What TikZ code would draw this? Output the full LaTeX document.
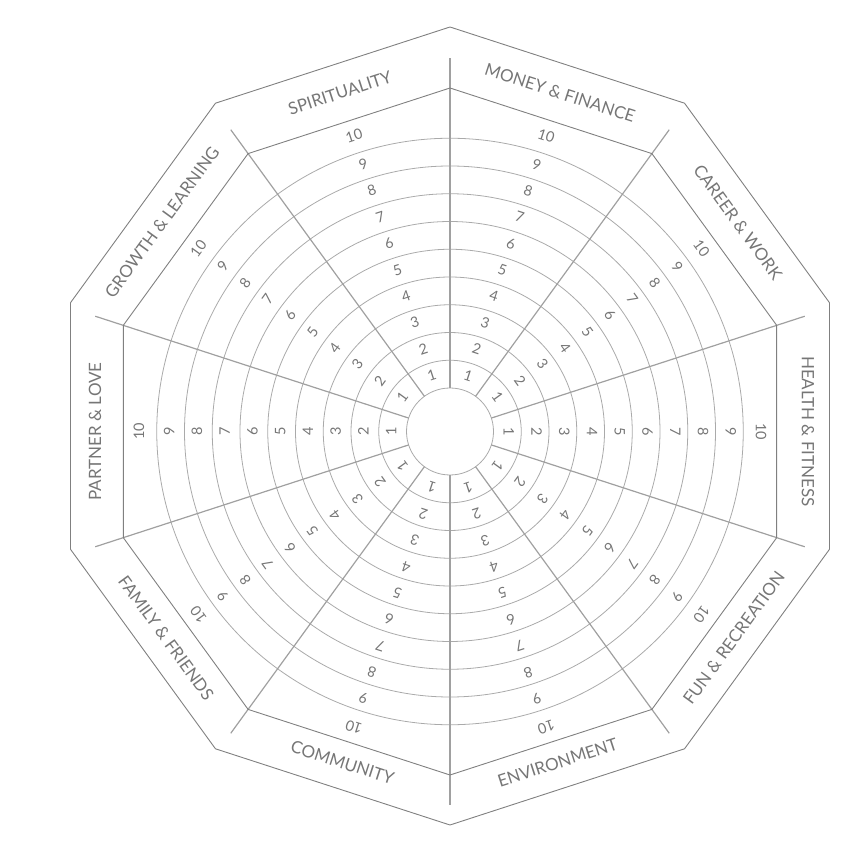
\documentclass[tikz,border=0pt]{standalone}
\usepackage{fontspec}
\setmainfont{Lato}
\definecolor{linegray}{HTML}{808080}
\definecolor{spokegray}{HTML}{A0A0A0}
\definecolor{circgray}{HTML}{AAAAAA}
\definecolor{textgray}{HTML}{767676}
\begin{document}
\begin{tikzpicture}[x=1pt,y=1pt,
  frame/.style={draw=linegray,line width=0.9pt,line join=miter},
  ringline/.style={draw=circgray,line width=0.8pt},
  spokeline/.style={draw=spokegray,line width=1.2pt},
  num/.style={text=textgray,font=\fontsize{14.5}{14.5}\selectfont,inner sep=0pt},
  lab/.style={text=textgray,font=\fontsize{17}{17}\selectfont,inner sep=0pt}]
\useasboundingbox (-450,-418.5) rectangle (408,431.5);
% outer decagon
\draw[frame,shift={(0,5.5)}] (90:399) \foreach \a in {54,18,...,-234} {-- (\a:399)} -- cycle;
% circles
\foreach \k in {0,...,9} \draw[ringline] (0,0) circle ({43.5+27.75*\k});
% spokes
\foreach \a in {90,54,...,-234} \draw[spokeline] (\a:43.5) -- (\a:373);
% inner decagon
\draw[frame] (90:343.5) \foreach \a in {54,18,...,-234} {-- (\a:343.5)} -- cycle;
% numbers
\foreach \b in {72,36,0,-36,-72,-108,-144,-180,-216,-252} {
  \foreach \k in {1,...,9} \node[num,rotate=\b-90] (n\b-\k) at (\b:{45+27.75*(\k-0.5)}) {\k};
  \node[num,rotate=\b-90] (n\b-10) at (\b:311) {10};
}
% labels
\node[lab,rotate=-18] (money) at (72:356) {MONEY \& FINANCE};
\node[lab,rotate=-54] (career) at (36:356) {CAREER \& WORK};
\node[lab,rotate=-90] (health) at (0:358) {HEALTH \& FITNESS};
\node[lab,rotate=54] (fun) at (-36:351) {FUN \& RECREATION};
\node[lab,rotate=18] (env) at (-72:348) {ENVIRONMENT};
\node[lab,rotate=-18] (comm) at (-108:348) {COMMUNITY};
\node[lab,rotate=-54] (family) at (-144:351) {FAMILY \& FRIENDS};
\node[lab,rotate=90] (partner) at (180:355) {PARTNER \& LOVE};
\node[lab,rotate=54] (growth) at (144:356) {GROWTH \& LEARNING};
\node[lab,rotate=18] (spirit) at (108:356) {SPIRITUALITY};
\end{tikzpicture}
\end{document}
